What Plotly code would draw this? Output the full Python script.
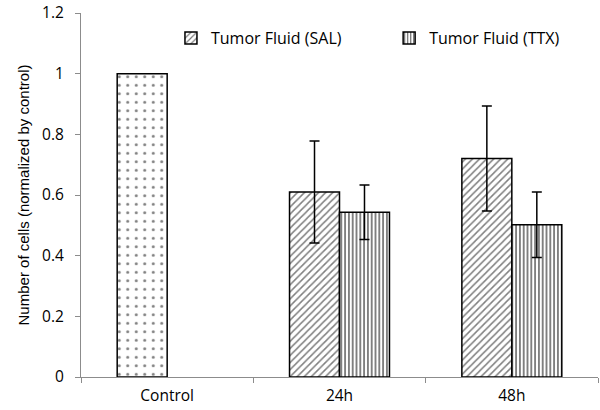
import plotly.graph_objects as go

categories = ["Control", "24h", "48h"]
control_vals = [1.0, None, None]
sal_vals = [None, 0.61, 0.72]
sal_err = [0, 0.168, 0.173]
ttx_vals = [None, 0.543, 0.502]
ttx_err = [0, 0.09, 0.108]
yticks = [0, 0.2, 0.4, 0.6, 0.8, 1.0, 1.2]

line_style = dict(color="black", width=1.5)

fig = go.Figure()
fig.add_trace(go.Bar(
    x=categories, y=control_vals, name="Control", showlegend=False,
    offsetgroup="a",
    marker=dict(color="white", line=line_style,
                pattern=dict(shape=".", fgcolor="black", bgcolor="white",
                             size=8.5, solidity=0.1)),
))
fig.add_trace(go.Bar(
    x=categories, y=sal_vals, name="Tumor Fluid (SAL)",
    offsetgroup="a", legend="legend",
    marker=dict(color="white", line=line_style,
                pattern=dict(shape="/", fgcolor="black", bgcolor="white",
                             size=5, solidity=0.3)),
    error_y=dict(type="data", array=sal_err, visible=True,
                 color="black", thickness=1.5, width=5),
))
fig.add_trace(go.Bar(
    x=categories, y=ttx_vals, name="Tumor Fluid (TTX)",
    offsetgroup="b", legend="legend2",
    marker=dict(color="white", line=line_style,
                pattern=dict(shape="|", fgcolor="black", bgcolor="white",
                             size=3.8, solidity=0.5)),
    error_y=dict(type="data", array=ttx_err, visible=True,
                 color="black", thickness=1.5, width=5),
))

legend_common = dict(orientation="h", xanchor="left", yanchor="middle", y=0.931,
                     font=dict(size=16), bgcolor="rgba(0,0,0,0)", itemwidth=30)

fig.update_layout(
    width=600, height=410,
    margin=dict(l=81, r=2, t=13.4, b=33),
    paper_bgcolor="white", plot_bgcolor="white",
    barmode="group", bargap=0.42, bargroupgap=0,
    font=dict(family="Open Sans, sans-serif", size=15.5, color="black"),
    legend=dict(x=0.174, **legend_common),
    legend2=dict(x=0.596, **legend_common),
    xaxis=dict(type="category", showline=True, linecolor="#8c8c8c", linewidth=1,
               ticks="outside", tickson="boundaries", ticklen=5, tickcolor="#8c8c8c",
               showgrid=False, automargin=False, ticklabelstandoff=4),
    yaxis=dict(range=[0, 1.2], tickvals=yticks, ticktext=[f"{v:g}" for v in yticks],
               showline=True, linecolor="#8c8c8c", linewidth=1,
               ticks="outside", ticklen=5, tickcolor="#8c8c8c", showgrid=False,
               zeroline=False, automargin=False, ticklabeloverflow="allow",
               ticklabelstandoff=8,
               title=dict(text="Number of cells (normalized by control)",
                          font=dict(family="Liberation Sans Narrow, Arial Narrow, sans-serif", size=15),
                          standoff=8)),
)

fig.write_html("out.html",
               config={"displayModeBar": False},
               post_script="document.body.style.margin='0';document.body.style.padding='0';")
